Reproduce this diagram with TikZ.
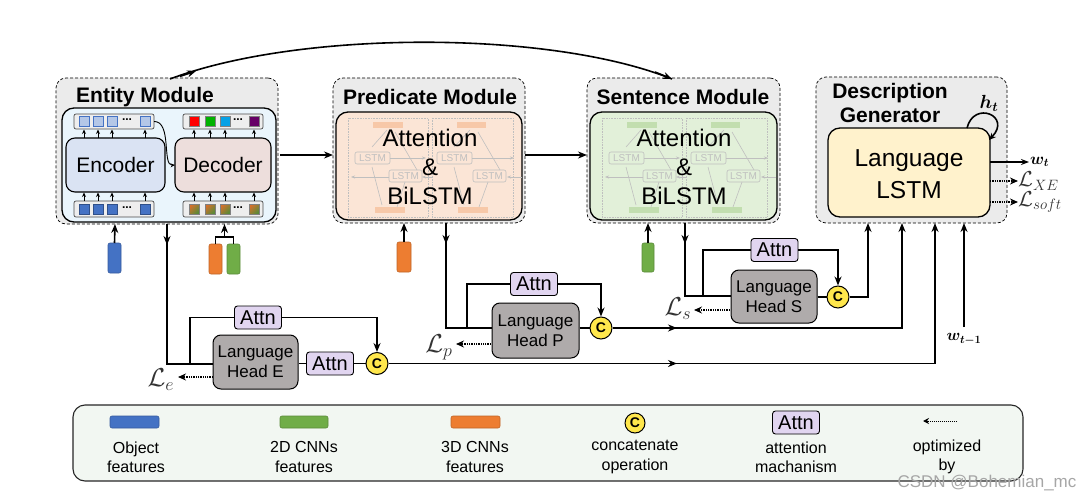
\RequirePackage{fix-cm}
\documentclass[tikz,border=0pt]{standalone}
\usepackage{amsmath}
\usepackage{fontspec}
\setmainfont{Liberation Sans}
\usetikzlibrary{arrows.meta,calc}
\definecolor{modfill}{HTML}{EBEBEB}
\definecolor{entfill}{HTML}{EAF5FC}
\definecolor{encfill}{HTML}{DAE3F3}
\definecolor{decfill}{HTML}{EDDEDC}
\definecolor{predfill}{HTML}{FBE5D6}
\definecolor{sentfill}{HTML}{E2F0D9}
\definecolor{lstmfill}{HTML}{FFF2CC}
\definecolor{attnfill}{HTML}{E1D5F0}
\definecolor{headfill}{HTML}{AFABAB}
\definecolor{cfill}{HTML}{FFE74C}
\definecolor{objblue}{HTML}{4472C4}
\definecolor{objlight}{HTML}{B4C7E7}
\definecolor{cnngreen}{HTML}{70AD47}
\definecolor{cnnorange}{HTML}{ED7D31}
\definecolor{legfill}{HTML}{F2F7F2}
\definecolor{stripfill}{HTML}{EEEEEE}
\definecolor{pinkbar}{HTML}{F4B183}
\definecolor{greenbar}{HTML}{A9D18E}
\newcommand{\fs}[1]{\fontsize{#1}{#1}\selectfont}
\newcommand{\mymath}[2]{\scalebox{#1}{\fontsize{17.28}{20}\selectfont$#2$}}
\tikzset{
  box/.style={anchor=north west, inner sep=0pt, outer sep=0pt},
  modbox/.style={box, draw, densely dashed, line width=0.7pt, rounded corners=10pt, fill=modfill},
  innerbox/.style={box, draw, line width=1.3pt, rounded corners=12pt},
  blockbox/.style={box, draw, line width=1.1pt, rounded corners=9pt},
  strip/.style={box, draw=black!70, line width=0.7pt, rounded corners=2pt, fill=stripfill},
  sq/.style={draw, line width=0.7pt, minimum size=10pt, inner sep=0pt},
  bar/.style={box, rounded corners=2pt, draw=#1!80!black, line width=0.6pt, fill=#1},
  attn/.style={draw, line width=0.9pt, fill=attnfill, rounded corners=3pt, minimum width=47pt, minimum height=23pt, inner sep=0pt, font=\fs{20}},
  head/.style={draw, line width=1pt, fill=headfill, rounded corners=8pt, inner sep=0pt, align=center, font=\fs{17}\linespread{1.15}\selectfont},
  cc/.style={circle, draw, line width=1pt, fill=cfill, minimum size=22pt, inner sep=0pt, font=\bfseries\fs{14}},
  ln/.style={line width=1.6pt},
  arr/.style={ln, -{Stealth[length=9pt,width=7pt]}},
  tiny/.style={line width=0.9pt, -{Stealth[length=4.5pt,width=4pt]}},
  opt/.style={line width=1.3pt, densely dotted, -{Stealth[length=8pt,width=7pt]}},
  title/.style={font=\bfseries\fs{21}},
  faint/.style={draw=black!25, line width=0.6pt},
  leg/.style={align=center, font=\fs{16}\linespread{1.2}\selectfont},
  mlab/.style={text=black!80, inner sep=0pt},
}
% faint BiLSTM sketch: #1 = left x of inner box, #2 = colour
\newcommand{\faintbilstm}[2]{%
  \begin{scope}[shift={(#1,0)}]
    \draw[faint, densely dotted] (12,118) rectangle (92,217);
    \draw[faint, densely dotted] (96,118) rectangle (177,217);
    \fill[#2, opacity=0.55] (37,122) rectangle (67,128);
    \fill[#2, opacity=0.55] (39,207) rectangle (69,213);
    \fill[#2, opacity=0.55] (121,122) rectangle (150,128);
    \fill[#2, opacity=0.55] (122,207) rectangle (152,213);
    \node[faint, rounded corners=2pt, minimum width=35pt, minimum height=12pt, inner sep=0pt, text=black!25, font=\fs{10}] at (36.5,158) {LSTM};
    \node[faint, rounded corners=2pt, minimum width=33pt, minimum height=12pt, inner sep=0pt, text=black!25, font=\fs{10}] at (69.5,176) {LSTM};
    \node[faint, rounded corners=2pt, minimum width=35pt, minimum height=12pt, inner sep=0pt, text=black!25, font=\fs{10}] at (118.5,158) {LSTM};
    \node[faint, rounded corners=2pt, minimum width=33pt, minimum height=12pt, inner sep=0pt, text=black!25, font=\fs{10}] at (153.5,176) {LSTM};
    \draw[faint] (36,147) -- (51,130);  \draw[faint] (59,132) -- (81,170);
    \draw[faint] (46,205) -- (36,167);  \draw[faint] (61,207) -- (69,182);
    \draw[faint] (118,147) -- (134,130); \draw[faint] (142,132) -- (164,170);
    \draw[faint] (128,205) -- (118,167); \draw[faint] (143,207) -- (152,182);
    \draw[faint,-{Stealth[length=4pt]}] (54,158) -- (90,158);
    \draw[faint,-{Stealth[length=4pt]}] (136,158) -- (178,158);
    \draw[faint,-{Stealth[length=4pt]}] (53,177) -- (15,177);
    \draw[faint,-{Stealth[length=4pt]}] (186,177) -- (171,177);
    \draw[faint,-{Stealth[length=4pt]}] (96,177) -- (86,177);
  \end{scope}}
\begin{document}
\begin{tikzpicture}[x=1pt, y=-1pt]
\useasboundingbox (0,0) rectangle (1086,500);

% ---------------- Entity module ----------------
\node[modbox, minimum width=222pt, minimum height=146pt] (ent) at (56,78) {};
\node[title] (enttitle) at (145,97) {Entity Module};
\node[innerbox, fill=entfill, minimum width=214pt, minimum height=114pt] (entin) at (62,108) {};
\node[blockbox, fill=encfill, minimum width=99pt, minimum height=54pt] (enc) at (66,138) {};
\node[font=\fs{21}] at (enc.center) {Encoder};
\node[blockbox, fill=decfill, minimum width=96pt, minimum height=54pt] (dec) at (175,138) {};
\node[font=\fs{21}] at (dec.center) {Decoder};
\node[strip, minimum width=80pt, minimum height=15pt] (enctop) at (74,114) {};
\node[strip, minimum width=80pt, minimum height=16pt] (encbot) at (74,201) {};
\node[strip, minimum width=80pt, minimum height=15pt] (dectop) at (183,114) {};
\node[strip, minimum width=80pt, minimum height=16pt] (decbot) at (183,201) {};
\foreach \x in {84,98,112,145}{
  \node[sq, draw=objblue, fill=objlight] at (\x,121.5) {};
  \node[sq, draw=objblue!70!black, fill=objblue] at (\x,209) {};
  \draw[tiny] (\x,201) -- (\x,192.5);
  \draw[tiny] (\x,138) -- (\x,129.5);
}
\node[font=\bfseries\fs{12}] at (127,120) {...};
\node[font=\bfseries\fs{12}] at (127,207.5) {...};
\foreach \x/\c in {194/red,210/{green!70!black},225/{cyan!90!blue},254/{violet!80!black}}{
  \node[sq, draw=black!50, fill=\c] at (\x,121.5) {};
}
\foreach \x in {194,210,225,254}{
  \node[sq, draw=black!50, left color=cnnorange!90!black, right color=cnngreen!80!black, shading angle=45] at (\x,209) {};
  \draw[tiny] (\x,201) -- (\x,192.5);
  \draw[tiny] (\x,138) -- (\x,129.5);
}
\node[font=\bfseries\fs{12}] at (238,120) {...};
\node[font=\bfseries\fs{12}] at (238,207.5) {...};
\draw[tiny] (enctop.east) .. controls (172,121) and (162,166) .. (dec.west);

% ---------------- Predicate module ----------------
\node[modbox, minimum width=192pt, minimum height=145pt] (pred) at (333,78) {};
\node[title] at (430,97) {Predicate Module};
\node[innerbox, fill=predfill, minimum width=186pt, minimum height=108pt] (predin) at (336,112) {};
\faintbilstm{336}{pinkbar}
\node[align=center, font=\fs{24}\linespread{1.2}\selectfont] at (430,167) {Attention\\\&\\BiLSTM};

% ---------------- Sentence module ----------------
\node[modbox, minimum width=193pt, minimum height=145pt] (sent) at (587,78) {};
\node[title] at (683,97) {Sentence Module};
\node[innerbox, fill=sentfill, minimum width=187pt, minimum height=108pt] (sentin) at (590,112) {};
\faintbilstm{590}{greenbar}
\node[align=center, font=\fs{24}\linespread{1.2}\selectfont] at (684,167) {Attention\\\&\\BiLSTM};

% ---------------- Description generator ----------------
\node[modbox, minimum width=191pt, minimum height=146pt] (dg) at (816,77) {};
\node[title, align=center, font=\bfseries\fs{21}\linespread{1.1}\selectfont] at (890,103) {Description\\Generator};
\node[innerbox, fill=lstmfill, minimum width=162pt, minimum height=89pt] (lstm) at (828,128) {};
\node[align=center, font=\fs{24.5}\linespread{1.3}\selectfont] at (909,174) {Language\\LSTM};
\draw[ln, -{Stealth[length=7pt,width=6pt]}] (967,128) .. controls (974,100) and (1012,116) .. (989,140);
\node[inner sep=0pt] at (989,103) {\mymath{1.1}{\boldsymbol{h_t}}};
\coordinate (wt) at (1029,162);
\coordinate (lxe) at (1018,181);
\coordinate (lsoft) at (1018,202);
\draw[ln, -{Stealth[length=8pt,width=6pt]}] (990,162) -- (wt);
\node[anchor=west, inner sep=1pt] at (wt) {\mymath{0.95}{\boldsymbol{w_t}}};
\draw[opt] (990,181) -- (lxe);
\node[mlab, anchor=west] at (lxe) {\mymath{1.25}{\mathcal{L}_{XE}}};
\draw[opt] (990,202) -- (lsoft);
\node[mlab, anchor=west] at (lsoft) {\mymath{1.25}{\mathcal{L}_{soft}}};

% module-to-module arrows
\draw[arr] (280,155) -- (333,155);
\draw[arr] (525,155) -- (587,155);
\draw[ln] (170,79) .. controls (300,30) and (550,30) .. (672,79);
\draw[ln, -{Stealth[length=9pt,width=7pt]}] (180,76.4) -- (196,71);
\draw[ln, -{Stealth[length=9pt,width=7pt]}] (655,72) -- (672,79);

% ---------------- Entity branch ----------------
\node[bar=objblue, minimum width=13pt, minimum height=30pt] (fobj) at (108,243) {};
\draw[arr] (fobj.north) -- (115,224);
\node[bar=cnnorange, minimum width=13pt, minimum height=30pt] (f3d) at (209,244) {};
\node[bar=cnngreen, minimum width=13pt, minimum height=30pt] (f2d) at (227,244) {};
\draw[ln] (f3d.north) -- (215.5,237) -- (233.5,237) -- (f2d.north);
\draw[arr] (224.5,237) -- (224.5,224);

\node[head, minimum width=85pt, minimum height=54pt] (headE) at (255.5,362) {Language\\Head E};
\node[attn] (attnE1) at (258,317.5) {Attn};
\node[attn] (attnE2) at (330,363.5) {Attn};
\node[cc] (cE) at (377,363.5) {C};
\draw[arr] (167,224) -- (167,245);
\draw[ln] (167,242) -- (167,364) -- (headE.west |- 0,364);
\draw[ln] (190,364) -- (190,317.5) -- (attnE1.west);
\draw[arr] (attnE1.east) -- (cE.north |- attnE1.east) -- (cE.north);
\draw[ln] (headE.east |- attnE2.west) -- (attnE2.west);
\draw[ln] (attnE2.east) -- (cE.west);
\draw[arr] (cE.east) -- (677,363.5);
\draw[arr] (673,363.5) -- (935,363.5) -- (935,223);
\draw[opt] (213,377) -- (178,377);
\node[mlab] at (161,380) {\mymath{1.5}{\mathcal{L}_e}};

% ---------------- Predicate branch ----------------
\node[bar=cnnorange, minimum width=14pt, minimum height=30pt] (f3dp) at (397,242) {};
\draw[arr] (f3dp.north) -- (404,223);
\node[head, minimum width=87pt, minimum height=55pt] (headP) at (535.5,330.5) {Language\\Head P};
\node[attn] (attnP) at (534,284) {Attn};
\node[cc] (cP) at (601,328) {C};
\draw[arr] (446,223) -- (446,244);
\draw[ln] (446,241) -- (446,328) -- (headP.west |- 0,328);
\draw[ln] (467,328) -- (467,284) -- (attnP.west);
\draw[arr] (attnP.east) -- (cP.north |- attnP.east) -- (cP.north);
\draw[ln] (headP.east |- cP.west) -- (cP.west);
\draw[arr] (cP.east) -- (677,328);
\draw[arr] (673,328) -- (902,328) -- (902,223);
\draw[opt] (491,344) -- (456,344);
\node[mlab] at (439,347) {\mymath{1.5}{\mathcal{L}_p}};

% ---------------- Sentence branch ----------------
\node[bar=cnngreen, minimum width=12pt, minimum height=29pt] (f2ds) at (642,243) {};
\draw[arr] (f2ds.north) -- (648,223);
\node[head, minimum width=86pt, minimum height=53pt] (headS) at (774,296.5) {Language\\Head S};
\node[attn] (attnS) at (774.5,250) {Attn};
\node[cc] (cS) at (838,297) {C};
\draw[arr] (685,223) -- (685,244);
\draw[ln] (685,241) -- (685,296) -- (headS.west |- 0,296);
\draw[ln] (703,296) -- (703,250) -- (attnS.west);
\draw[arr] (attnS.east) -- (cS.north |- attnS.east) -- (cS.north);
\draw[ln] (headS.east |- cS.west) -- (cS.west);
\draw[arr] (cS.east) -- (868,297) -- (868,223);
\draw[opt] (730,310) -- (694,310);
\node[mlab] at (678,309) {\mymath{1.5}{\mathcal{L}_s}};

% w_{t-1}
\coordinate (wprev) at (964,327);
\draw[arr] (wprev) -- (964,223);
\node[inner sep=0pt] at (964,339) {\mymath{0.93}{\boldsymbol{w_{t-1}}}};

% ---------------- Legend ----------------
\node[box, draw=black!85, line width=1.1pt, rounded corners=12pt, fill=legfill, minimum width=950pt, minimum height=76pt] (legend) at (73,405) {};
\node[bar=objblue, minimum width=49pt, minimum height=12pt] (lobj) at (110,416) {};
\node[leg] at (136,457) {Object\\features};
\node[bar=cnngreen, minimum width=48pt, minimum height=12pt] (l2d) at (280,416) {};
\node[leg] at (304,457) {2D CNNs\\features};
\node[bar=cnnorange, minimum width=49pt, minimum height=12pt] (l3d) at (451,416) {};
\node[leg] at (475,457) {3D CNNs\\features};
\node[cc, minimum size=20pt] (lc) at (635,423) {C};
\node[leg] at (635,457) {concatenate\\operation};
\node[attn] (lattn) at (796,422.5) {Attn};
\node[leg] at (796,457) {attention\\machanism};
\coordinate (lopt) at (923,421);
\draw[line width=1pt, densely dotted, -{Stealth[length=6pt,width=6pt]}] (957,421) -- (lopt);
\node[leg] at (947,457) {optimized\\by};

% watermark
\node[text=black!35, font=\fs{17}] at (987,483) {CSDN @Bohemian\_mc};
\end{tikzpicture}
\end{document}
